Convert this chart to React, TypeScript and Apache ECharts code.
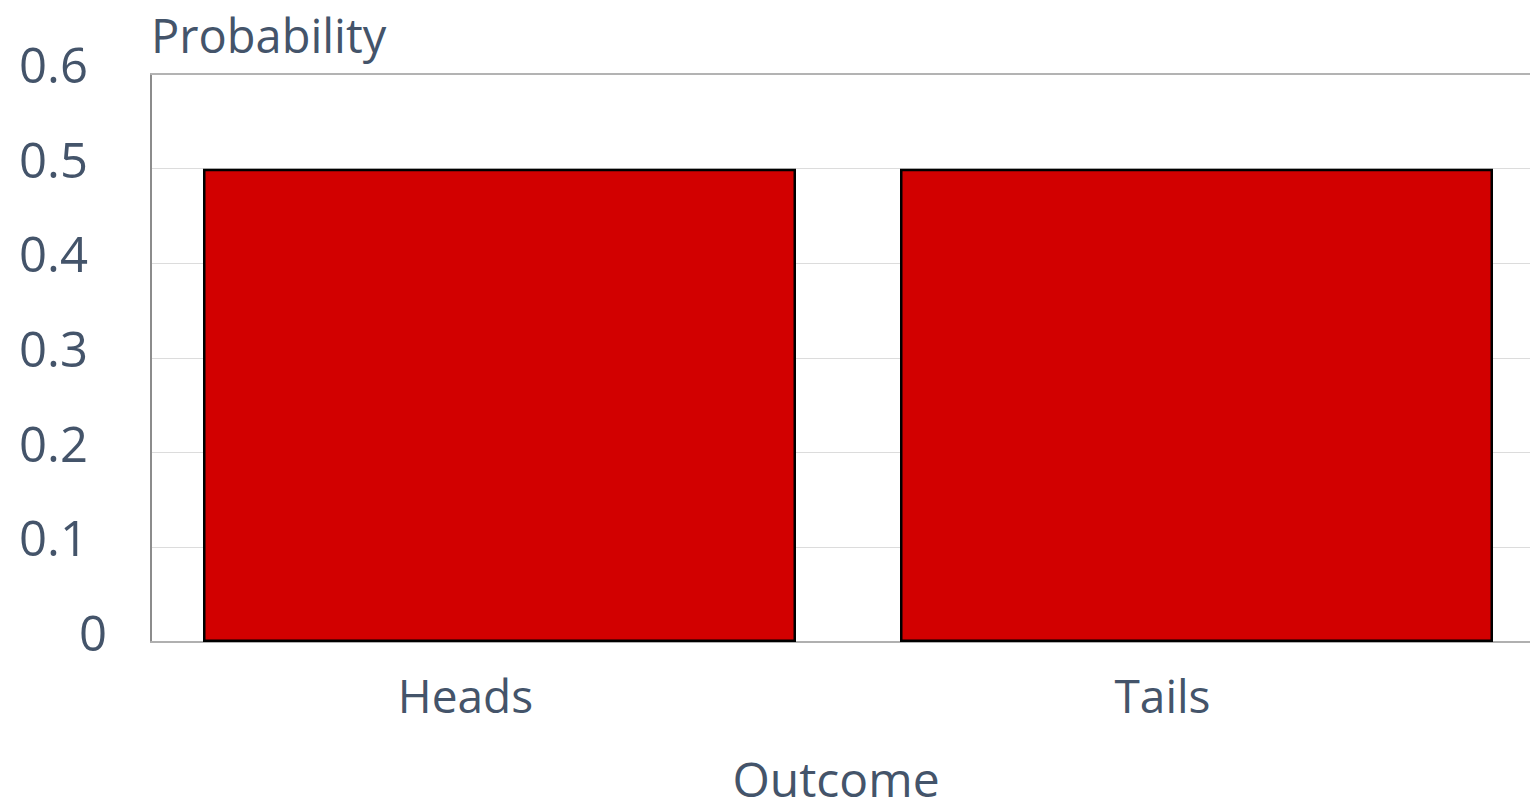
import React, { useEffect, useRef } from "react";
import * as echarts from "echarts";

const categories = ["Heads", "Tails"];
const probabilities = [0.5, 0.5];
const yTicks = [0, 0.1, 0.2, 0.3, 0.4, 0.5, 0.6];

const textColor = "#44546a";
const font = "'Open Sans', 'Noto Sans', sans-serif";

export default function App() {
  const ref = useRef<HTMLDivElement>(null);
  useEffect(() => {
    document.body.style.margin = "0";
    document.body.style.overflow = "hidden";
    if (!ref.current) return;
    const chart = echarts.init(ref.current, undefined, { renderer: "svg" });
    const labelStyle = { color: textColor, fontSize: 49, fontFamily: font };
    chart.setOption({
      animation: false,
      backgroundColor: "#ffffff",
      grid: { left: 151, top: 74, right: 0, bottom: 169, containLabel: false },
      xAxis: [
        {
          type: "category",
          data: categories,
          name: "Outcome",
          nameLocation: "middle",
          nameGap: 112,
          nameTextStyle: {
            color: textColor,
            fontSize: 48,
            lineHeight: 48,
            fontFamily: font,
            padding: [0, 24, 0, 0],
          },
          axisLine: { show: true, lineStyle: { color: "#b0b0b0", width: 2 } },
          axisTick: { show: false },
          axisLabel: {
            color: textColor,
            fontSize: 46,
            fontFamily: font,
            margin: 30,
            padding: [0, 68, 0, 0],
          },
          splitLine: { show: false },
        },
        {
          type: "category",
          data: categories,
          position: "top",
          axisLine: { show: true, lineStyle: { color: "#b3b3b3", width: 2 } },
          axisTick: { show: false },
          axisLabel: { show: false },
          splitLine: { show: false },
        },
      ],
      yAxis: {
        type: "value",
        min: yTicks[0],
        max: yTicks[yTicks.length - 1],
        interval: 0.1,
        name: "Probability",
        nameLocation: "end",
        nameGap: 15,
        nameTextStyle: {
          color: textColor,
          fontSize: 47,
          lineHeight: 48,
          fontFamily: font,
          align: "left",
        },
        axisLine: { show: true, lineStyle: { color: "#8c8c8c", width: 2 } },
        axisTick: { show: false },
        axisLabel: {
          ...labelStyle,
          margin: 44,
          formatter: (v: number) => {
            const s = (Math.round(v * 10) / 10).toString();
            return v === 0 ? `{z|${s}}` : `{n|${s}}`;
          },
          rich: {
            n: { ...labelStyle, padding: [0, 19, 20, 0] },
            z: { ...labelStyle, padding: [0, 0, 20, 0] },
          },
        },
        splitLine: { show: true, lineStyle: { color: "#dcdcdc", width: 1 } },
      },
      series: [
        {
          type: "bar",
          data: probabilities,
          barWidth: 593,
          itemStyle: { color: "#d20000", borderColor: "#000000", borderWidth: 2.5 },
        },
      ],
    });
    return () => chart.dispose();
  }, []);
  return (
    <div style={{ width: 1530, height: 811, overflow: "hidden" }}>
      <div ref={ref} style={{ width: 1545, height: 811 }} />
    </div>
  );
}
